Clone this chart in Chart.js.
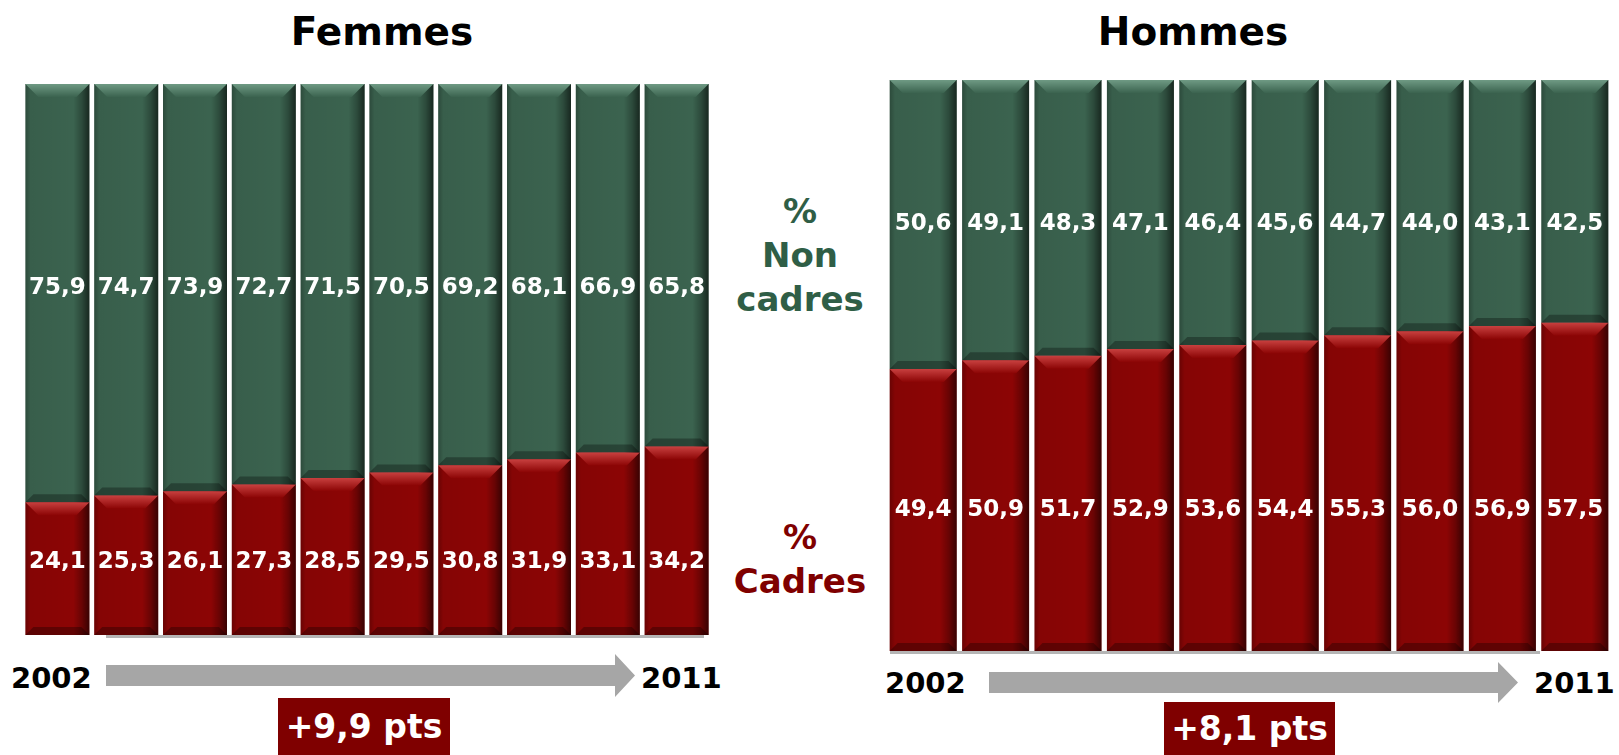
<!DOCTYPE html>
<html>
<head>
<meta charset="utf-8">
<script src="https://cdn.jsdelivr.net/npm/chart.js@4"></script>
<style>
  body { margin: 0; width: 1619px; height: 755px; background: #fff; position: relative; overflow: hidden;
         font-family: "DejaVu Sans", Verdana, sans-serif; font-weight: bold; }
  .box { position: absolute; }
  .txt { position: absolute; white-space: nowrap; line-height: 1; }
  .title { font-size: 39px; color: #000; transform: translate(-50%, -50%); }
  .year { font-size: 29px; color: #000; transform: translateY(-50%); }
  .side { font-size: 34px; text-align: center; line-height: 44px; transform: translateX(-50%); }
  .pts { background: #7f0000; color: #fff; font-size: 33px; display: flex; align-items: center; justify-content: center; }
  .floor { position: absolute; height: 3px; background: #b5b5b5; }
</style>
</head>
<body>
<div class="txt title" style="left:382px; top:31px;">Femmes</div>
<div class="txt title" style="left:1193px; top:31px;">Hommes</div>

<div class="floor" style="left:106px; top:635px; width:598px;"></div>
<div class="floor" style="left:890px; top:651px; width:650px;"></div>

<div class="box" style="left:23px; top:84px; width:688px; height:551px;"><canvas id="femmes"></canvas></div>
<div class="box" style="left:887px; top:80px; width:724px; height:571px;"><canvas id="hommes"></canvas></div>

<div class="txt side" style="left:800px; top:189px; color:#2f5e46;">%<br>Non<br>cadres</div>
<div class="txt side" style="left:800px; top:515px; color:#7f0000;">%<br>Cadres</div>

<div class="txt year" style="left:11px; top:678px;">2002</div>
<div class="txt year" style="left:641px; top:678px;">2011</div>
<div class="txt year" style="left:885px; top:683px;">2002</div>
<div class="txt year" style="left:1534px; top:683px;">2011</div>

<svg class="box" style="left:0; top:0;" width="1619" height="755">
  <polygon points="106,665 615,665 615,654 635,675.5 615,697 615,686 106,686" fill="#a6a6a6"/>
  <polygon points="989,672 1498,672 1498,662 1518,682.5 1498,703 1498,693 989,693" fill="#a6a6a6"/>
</svg>

<div class="box pts" style="left:278px; top:698px; width:172px; height:57px;">+9,9 pts</div>
<div class="box pts" style="left:1164px; top:702px; width:171px; height:53px;">+8,1 pts</div>

<script>
const years = ['2002', '2003', '2004', '2005', '2006', '2007', '2008', '2009', '2010', '2011'];

const femmesCadres = [24.1, 25.3, 26.1, 27.3, 28.5, 29.5, 30.8, 31.9, 33.1, 34.2];
const femmesNonCadres = [75.9, 74.7, 73.9, 72.7, 71.5, 70.5, 69.2, 68.1, 66.9, 65.8];

const hommesCadres = [49.4, 50.9, 51.7, 52.9, 53.6, 54.4, 55.3, 56.0, 56.9, 57.5];
const hommesNonCadres = [50.6, 49.1, 48.3, 47.1, 46.4, 45.6, 44.7, 44.0, 43.1, 42.5];

const yTicks = [0, 100];

const GREEN = '#3b634f';
const GREEN_LIGHT = '#6f9a84';
const RED = '#8c0505';
const RED_LIGHT = '#c8403f';

const fmt = v => v.toFixed(1).replace('.', ',');

// bevel look like the office 3D bars
const bevelPlugin = {
  id: 'bevel',
  afterDatasetsDraw(chart) {
    const ctx = chart.ctx;
    chart.data.datasets.forEach((ds, i) => {
      const meta = chart.getDatasetMeta(i);
      meta.data.forEach(bar => {
        const p = bar.getProps(['x', 'y', 'base', 'width'], true);
        const l = p.x - p.width / 2, r = p.x + p.width / 2;
        const t = Math.min(p.y, p.base), b = Math.max(p.y, p.base);
        const bev = 13;
        ctx.save();
        // left / right shading
        let g = ctx.createLinearGradient(l, 0, r, 0);
        g.addColorStop(0, 'rgba(0,0,0,0.25)');
        g.addColorStop(0.08, 'rgba(0,0,0,0.05)');
        g.addColorStop(0.75, 'rgba(0,0,0,0)');
        g.addColorStop(0.88, 'rgba(0,0,0,0.25)');
        g.addColorStop(1, 'rgba(0,0,0,0.6)');
        ctx.fillStyle = g;
        ctx.fillRect(l, t, r - l, b - t);
        // top bevel
        ctx.beginPath();
        ctx.moveTo(l, t);
        ctx.lineTo(r, t);
        ctx.lineTo(r - bev, t + bev);
        ctx.lineTo(l + bev, t + bev);
        ctx.closePath();
        g = ctx.createLinearGradient(0, t, 0, t + bev);
        g.addColorStop(0, ds.bevelColor);
        g.addColorStop(1, ds.backgroundColor);
        ctx.fillStyle = g;
        ctx.fill();
        // bottom bevel
        ctx.beginPath();
        ctx.moveTo(l, b);
        ctx.lineTo(r, b);
        ctx.lineTo(r - 8, b - 8);
        ctx.lineTo(l + 8, b - 8);
        ctx.closePath();
        ctx.fillStyle = 'rgba(0,0,0,0.3)';
        ctx.fill();
        ctx.restore();
      });
    });
  }
};

const labelPlugin = {
  id: 'valueLabels',
  afterDatasetsDraw(chart) {
    const ctx = chart.ctx;
    const yScale = chart.scales.y;
    ctx.save();
    ctx.fillStyle = '#fff';
    ctx.font = 'bold 23px "DejaVu Sans"';
    ctx.textAlign = 'center';
    ctx.textBaseline = 'middle';
    chart.data.datasets.forEach((ds, i) => {
      const meta = chart.getDatasetMeta(i);
      const y = yScale.getPixelForValue(ds.labelLevel);
      meta.data.forEach((bar, j) => {
        ctx.fillText(fmt(ds.data[j]), bar.x, y);
      });
    });
    ctx.restore();
  }
};

function makeChart(id, cadres, nonCadres, cadresLevel, nonLevel, barPct) {
  new Chart(document.getElementById(id), {
    type: 'bar',
    data: {
      labels: years,
      datasets: [
        { label: '% Cadres', data: cadres, backgroundColor: RED, bevelColor: RED_LIGHT,
          labelLevel: cadresLevel, borderWidth: 0 },
        { label: '% Non cadres', data: nonCadres, backgroundColor: GREEN, bevelColor: GREEN_LIGHT,
          labelLevel: nonLevel, borderWidth: 0 }
      ]
    },
    options: {
      responsive: true,
      maintainAspectRatio: false,
      animation: false,
      layout: { padding: 0 },
      datasets: { bar: { barPercentage: barPct, categoryPercentage: 1 } },
      plugins: { legend: { display: false }, tooltip: { enabled: false } },
      scales: {
        x: { stacked: true, display: false },
        y: { stacked: true, display: false, min: yTicks[0], max: yTicks[1] }
      }
    },
    plugins: [bevelPlugin, labelPlugin]
  });
}

makeChart('femmes', femmesCadres, femmesNonCadres, 13.2, 63.0, 0.93);
makeChart('hommes', hommesCadres, hommesNonCadres, 24.7, 74.8, 0.925);
</script>
</body>
</html>
